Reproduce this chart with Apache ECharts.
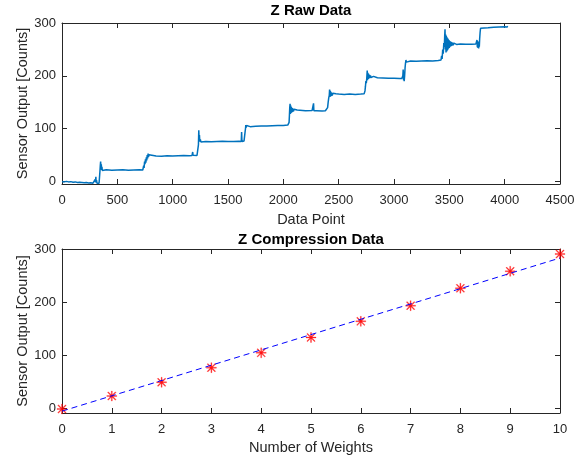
<!DOCTYPE html>
<html>
<head>
<meta charset="utf-8">
<script src="https://cdn.jsdelivr.net/npm/echarts@6/dist/echarts.min.js"></script>
<style>
html,body{margin:0;padding:0;background:#fff;}
#chart{width:586px;height:459px;}
</style>
</head>
<body>
<div id="chart"></div>
<script>
// ---------- DATA ----------
const titles = ['Z Raw Data', 'Z Compression Data'];
const rawXLabel = 'Data Point';
const compXLabel = 'Number of Weights';
const yLabel = 'Sensor Output [Counts]';
const yTicks = [0, 100, 200, 300];

// raw sensor trace [data point, counts]
const rawPoints = [
  [0,0],[20,-0.5],[40,0.5],[60,-0.5],[80,0],[100,-1],[120,-0.5],[140,-1.5],[160,-1],[180,-1.5],
  [200,-2],[220,-1.5],[240,-2.5],[260,-2],[280,-3],[295,-2.5],[300,4],[303,-1],[306,9],[309,-2],
  [312,3],[316,-3],[325,-2.5],[335,-3],[340,-2],[343,20],[346,30],[349,38],[352,26],[355,33],
  [358,22],[361,28],[364,21],[367,24],[372,22],[400,22.5],[450,21.5],[500,22],[550,22.5],[600,21.5],
  [650,22],[700,22.5],[730,22],
  [733,23],[738,30],[742,26],[746,38],[750,33],[754,42],[758,36],[762,46],[766,40],[770,50],
  [774,44],[778,53],[782,47],[786,51],[790,48],[800,49],[850,48.5],[900,48],[950,49],[1000,48.5],
  [1050,49],[1100,49.5],[1150,49],[1175,49.5],[1178,47],[1181,56],[1184,50],[1190,49.5],[1220,49.5],
  [1225,47],[1230,49],[1233,70],[1236,97],[1239,80],[1242,88],[1245,76],[1250,80],[1255,75],[1260,78],
  [1270,76],[1300,76],[1350,75.5],[1400,76],[1450,76.5],[1500,76],[1550,76],[1600,76.5],[1620,76],
  [1623,94],[1626,76],[1635,76],[1645,77],[1650,86],[1655,95],[1658,100],[1661,107],[1664,102],
  [1668,106],[1672,103],[1680,104.5],[1700,104],[1750,104.5],[1800,105],[1850,105],[1900,105.5],
  [1950,106],[2000,106],[2040,107],[2048,108],
  [2052,112],[2055,125],[2058,140],[2061,147],[2064,128],[2067,144],[2070,130],[2073,141],[2076,131],
  [2080,139],[2084,132],[2088,138],[2092,133],[2097,137],[2102,134],[2108,136.5],[2115,134],[2125,135.5],
  [2140,134.5],[2200,134],[2260,134.5],[2270,134],[2273,148],[2276,134],[2300,134],[2350,133.5],[2380,134],
  [2395,134],[2400,140],[2405,150],[2410,158],[2415,163],[2418,174],[2421,160],[2424,172],[2427,161],
  [2430,170],[2434,162],[2438,168],[2442,163],[2447,167],[2452,164],[2458,166.5],[2465,164.5],[2475,166],
  [2500,165.5],[2550,165],[2600,165.5],[2650,165],[2700,165.5],[2730,166],
  [2738,172],[2742,180],[2746,190],[2750,186],[2754,196],[2758,210],[2761,192],[2764,206],[2767,194],
  [2770,204],[2774,195],[2778,202],[2782,196],[2787,201],[2792,197],[2798,200],[2805,197.5],[2815,199],
  [2830,197],[2850,196.5],[2900,196],[2950,195.5],[3000,195.5],[3050,195],[3070,195],
  [3075,196],[3080,200],[3083,212],[3086,192],[3089,208],[3092,190],[3096,200],[3100,215],[3104,224],
  [3108,230],[3112,226],[3118,229],[3125,227.5],[3150,228],[3200,227.5],[3250,228],[3300,228.5],
  [3350,228],[3400,229],[3425,230],
  [3430,238],[3435,232],[3440,250],[3445,242],[3450,262],[3455,255],[3458,275],[3461,288],[3464,250],
  [3467,278],[3470,244],[3473,276],[3476,246],[3479,273],[3482,248],[3485,271],[3488,250],[3491,269],
  [3494,252],[3497,268],[3500,253],[3504,266],[3508,255],[3512,265],[3516,256],[3520,264],[3525,257],
  [3530,263],[3535,258],[3541,262],[3548,259],[3556,261.5],[3565,259.5],[3580,261],[3600,260.5],
  [3650,260],[3700,260],[3740,260.5],
  [3745,262],[3750,268],[3753,254],[3756,266],[3759,253],[3762,264],[3765,252],[3768,262],[3771,255],
  [3774,270],[3778,282],[3782,290],[3786,289],[3790,291],[3800,290.5],[3850,291],[3900,292],
  [3950,292.5],[4000,293],[4015,294],[4020,292.5],[4030,293.5]
];

// compression data
const weights = [0, 1, 2, 3, 4, 5, 6, 7, 8, 9, 10];
const compValues = [-2, 22.5, 48.5, 76, 104, 133, 163.5, 193, 226, 258, 290.5];
// linear fit end points
const fitX = [0, 10];
const fitY = [-6, 283];

// ---------- CHART ----------
const FONT = '"Liberation Sans", Arial, Helvetica, sans-serif';
const AX = '#262626';
const asterisk = 'path://M9,0L11,0L11,20L9,20Z M0,9L20,9L20,11L0,11Z M2.9,1.5L18.5,17.1L17.1,18.5L1.5,2.9Z M17.1,1.5L18.5,2.9L2.9,18.5L1.5,17.1Z';

function xAx(grid, pos, min, max, interval, name, gap) {
  const main = pos === 'bottom';
  return {
    type: 'value', gridIndex: grid, position: pos, min: min, max: max, interval: interval,
    axisLine: {show: true, onZero: false, lineStyle: {color: AX, width: 1}},
    axisTick: {show: true, inside: true, length: 5, lineStyle: {color: AX, width: 1}},
    axisLabel: {show: main, color: AX, fontFamily: FONT, fontSize: 13, margin: 10,
                formatter: v => String(v)},
    splitLine: {show: false},
    name: main ? name : '', nameLocation: 'middle', nameGap: gap, nameMoveOverlap: false,
    nameTextStyle: {color: AX, fontFamily: FONT, fontSize: 14.5}
  };
}
function yAx(grid, pos, min, max) {
  const main = pos === 'left';
  return {
    type: 'value', gridIndex: grid, position: pos, min: min, max: max,
    axisLine: {show: true, onZero: false, lineStyle: {color: AX, width: 1}},
    axisTick: {show: true, inside: true, length: 5, customValues: yTicks, lineStyle: {color: AX, width: 1}},
    axisLabel: {show: main, customValues: yTicks, color: AX, fontFamily: FONT, fontSize: 13, margin: 6,
                formatter: v => String(v)},
    splitLine: {show: false},
    name: main ? yLabel : '', nameLocation: 'middle', nameGap: 32, nameMoveOverlap: false,
    nameTextStyle: {color: AX, fontFamily: FONT, fontSize: 14.5}
  };
}

const chart = echarts.init(document.getElementById('chart'), null, {renderer: 'canvas'});
chart.setOption({
  animation: false,
  backgroundColor: '#fff',
  title: [
    {text: titles[0], left: 311, top: 3, textAlign: 'center', padding: 0,
     textStyle: {fontFamily: FONT, fontSize: 15, fontWeight: 'bold', color: '#000'}},
    {text: titles[1], left: 311, top: 232, textAlign: 'center', padding: 0,
     textStyle: {fontFamily: FONT, fontSize: 15, fontWeight: 'bold', color: '#000'}}
  ],
  grid: [
    {left: 62, right: 26, top: 23, height: 161},
    {left: 62, right: 26, top: 249, height: 164}
  ],
  xAxis: [
    xAx(0, 'bottom', 0, 4500, 500, rawXLabel, 28),
    xAx(0, 'top', 0, 4500, 500, '', 0),
    xAx(1, 'bottom', 0, 10, 1, compXLabel, 27),
    xAx(1, 'top', 0, 10, 1, '', 0)
  ],
  yAxis: [
    yAx(0, 'left', -4.5, 300),
    yAx(0, 'right', -4.5, 300),
    yAx(1, 'left', -9.5, 300),
    yAx(1, 'right', -9.5, 300)
  ],
  series: [
    {
      type: 'line', xAxisIndex: 0, yAxisIndex: 0, data: rawPoints,
      showSymbol: false, symbol: 'none', sampling: null,
      lineStyle: {color: '#0072BD', width: 1.5}, z: 2
    },
    {
      type: 'scatter', xAxisIndex: 2, yAxisIndex: 2,
      data: weights.map((w, i) => [w, compValues[i]]),
      symbol: asterisk, symbolSize: 10, clip: false,
      itemStyle: {color: '#FF0000', borderColor: '#FF0000', borderWidth: 0.3}, z: 2
    },
    {
      type: 'line', xAxisIndex: 2, yAxisIndex: 2,
      data: fitX.map((x, i) => [x, fitY[i]]),
      showSymbol: false, symbol: 'none',
      lineStyle: {color: '#0000FF', width: 1, type: [6, 4]}, z: 3
    }
  ]
});
</script>
</body>
</html>
